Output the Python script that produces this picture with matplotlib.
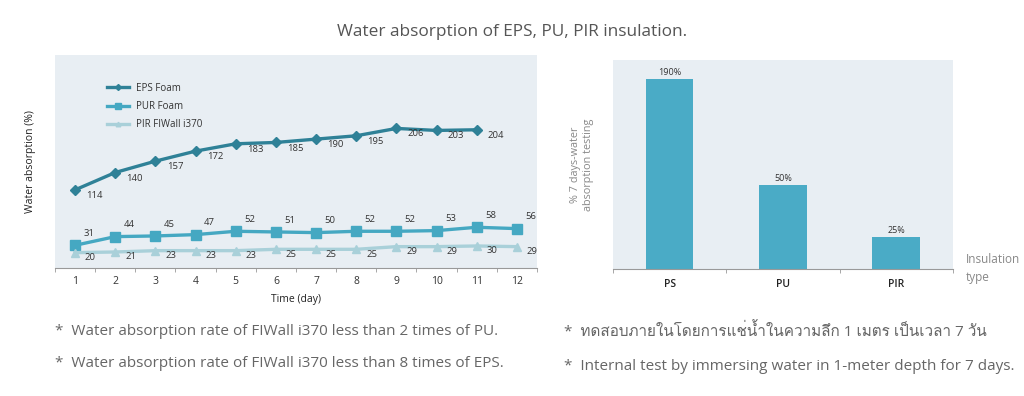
import matplotlib.pyplot as plt
from matplotlib import font_manager
from matplotlib.ft2font import FT2Font

days = list(range(1, 13))
eps = [114, 140, 157, 172, 183, 185, 190, 195, 206, 203, 204]
pur = [31, 44, 45, 47, 52, 51, 50, 52, 52, 53, 58, 56]
pir = [20, 21, 23, 23, 23, 25, 25, 25, 29, 29, 30, 29]

bar_names = ["PS", "PU", "PIR"]
bar_heights = [190, 84, 32]   # heights as drawn in the picture (no scale shown)
bar_labels = ["190%", "50%", "25%"]

notes_left = ["Water absorption rate of FIWall i370 less than 2 times of PU.",
              "Water absorption rate of FIWall i370 less than 8 times of EPS."]
notes_right = ["ทดสอบภายในโดยการแช่น้ำในความลึก 1 เมตร เป็นเวลา 7 วัน",
               "Internal test by immersing water in 1-meter depth for 7 days."]

# look for any installed font that has Thai letters
thai_fams = []
for f in font_manager.fontManager.ttflist:
    try:
        if 0x0E17 in FT2Font(f.fname).get_charmap() and f.name not in thai_fams:
            thai_fams.append(f.name)
    except Exception:
        pass

plt.rcParams['font.family'] = ['Open Sans', 'Noto Sans'] + thai_fams + ['DejaVu Sans']

bg = "#e8eef3"
c_eps = "#2f8197"
c_pur = "#45a8c2"
c_pir = "#a9d0d9"
c_bar = "#4aabc6"

fig = plt.figure(figsize=(10.24, 3.96), dpi=100)
fig.text(0.5, 0.918, "Water absorption of EPS, PU, PIR insulation.", ha="center", va="center",
         fontsize=12.4, color="#555555")

# left line chart
ax = fig.add_axes([0.0537, 0.3232, 0.4707, 0.538])
ax.set_facecolor(bg)
ax.plot(days[:len(eps)], eps, color=c_eps, lw=2.4, marker="D", ms=5.5, label="EPS Foam")
ax.plot(days, pur, color=c_pur, lw=2.4, marker="s", ms=7, label="PUR Foam")
ax.plot(days, pir, color=c_pir, lw=2.4, marker="^", ms=6, label="PIR FIWall i370")
for d, v in zip(days, eps):
    ax.annotate(str(v), (d, v), xytext=(14, -4), textcoords="offset points", fontsize=6.8,
                color="#333333", ha="center", va="center")
for d, v in zip(days, pur):
    ax.annotate(str(v), (d, v), xytext=(10, 8.5), textcoords="offset points", fontsize=6.8,
                color="#333333", ha="center", va="center")
for d, v in zip(days, pir):
    ax.annotate(str(v), (d, v), xytext=(11, -3.5), textcoords="offset points", fontsize=6.8,
                color="#333333", ha="center", va="center")
ax.set_xlim(0.5, 12.5)
ax.set_ylim(-3, 316)
ax.set_xticks(days)
ax.set_xticks([d + 0.5 for d in range(0, 13)], minor=True)
ax.tick_params(axis="x", which="major", length=0, labelsize=7.5, labelcolor="#333333", pad=6)
ax.tick_params(axis="x", which="minor", length=3, color="#999999", direction="out")
ax.set_yticks([])
for s in ["top", "right", "left"]:
    ax.spines[s].set_visible(False)
ax.spines["bottom"].set_color("#999999")
ax.set_xlabel("Time (day)", fontsize=7.5, color="#222222", labelpad=5)
ax.set_ylabel("Water absorption (%)", fontsize=7.5, color="#222222", labelpad=14)
ax.legend(loc="upper left", bbox_to_anchor=(0.09, 0.91), frameon=False, fontsize=7,
          handlelength=2.2, markerscale=0.55, labelspacing=0.75, labelcolor="#333333")

# right bar chart
ax2 = fig.add_axes([0.5986, 0.3207, 0.332, 0.528])
ax2.set_facecolor(bg)
x = range(len(bar_names))
bars = ax2.bar(x, bar_heights, width=0.42, color=c_bar)
for b, lab in zip(bars, bar_labels):
    ax2.text(b.get_x() + b.get_width() / 2, b.get_height() + 2, lab, ha="center", va="bottom",
             fontsize=6.5, color="#333333")
ax2.set_xlim(-0.5, 2.5)
ax2.set_ylim(0, 209)
ax2.set_xticks(list(x))
ax2.set_xticklabels(bar_names, fontsize=7.5, fontweight="semibold", color="#222222")
ax2.set_xticks([-0.5, 0.5, 1.5, 2.5], minor=True)
ax2.tick_params(axis="x", which="major", length=0, pad=7)
ax2.tick_params(axis="x", which="minor", length=3, color="#999999")
ax2.set_yticks([])
for s in ["top", "right", "left"]:
    ax2.spines[s].set_visible(False)
ax2.spines["bottom"].set_color("#999999")
ax2.set_ylabel("% 7 days-water\nabsorption testing", fontsize=7.8, color="#888888", labelpad=14)
fig.text(0.943, 0.322, "Insulation\ntype", fontsize=8.5, color="#888888", ha="left", va="center",
         linespacing=1.5)

# notes
for i, t in enumerate(notes_left):
    fig.text(0.054, 0.162 - i * 0.08, "*  " + t, fontsize=11, color="#666666", va="center")
for i, t in enumerate(notes_right):
    fig.text(0.551, 0.162 - i * 0.088, "*  " + t, fontsize=11, color="#666666", va="center")

fig.savefig("out.png", dpi=100)
